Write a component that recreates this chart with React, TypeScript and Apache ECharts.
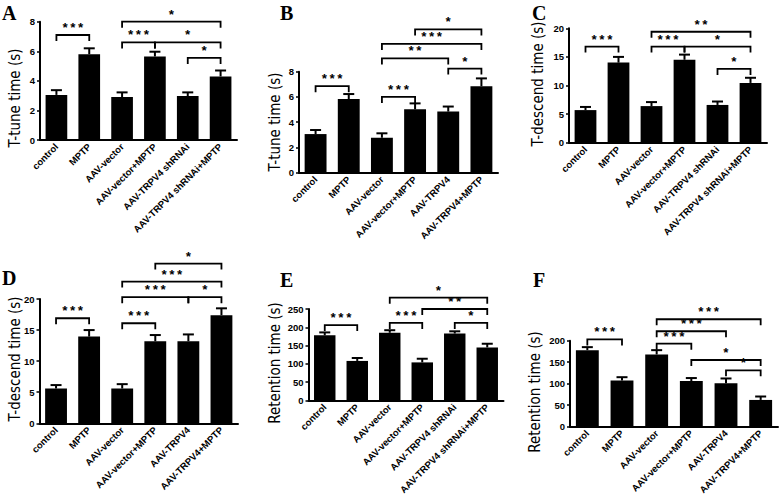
import React, { useEffect, useRef } from "react";
import * as echarts from "echarts";

// ---------- categories ----------
const groupsShRNAi = ["control", "MPTP", "AAV-vector", "AAV-vector+MPTP", "AAV-TRPV4 shRNAi", "AAV-TRPV4 shRNAi+MPTP"];
const groupsTRPV4 = ["control", "MPTP", "AAV-vector", "AAV-vector+MPTP", "AAV-TRPV4", "AAV-TRPV4+MPTP"];

// ---------- panel letters & y-axis titles ----------
const letters = ["A", "B", "C", "D", "E", "F"];
const yTitles = ["T-tune time (s)", "T-tune time (s)", "T-descend time (s)", "T-descend time (s)", "Retention time (s)", "Retention time (s)"];

// ---------- tick labels ----------
const ticksA = [0, 2, 4, 6, 8];
const ticksB = [0, 2, 4, 6, 8];
const ticksC = [0, 5, 10, 15, 20];
const ticksD = [0, 5, 10, 15, 20];
const ticksE = [0, 50, 100, 150, 200, 250];
const ticksF = [0, 50, 100, 150, 200];

// ---------- means ----------
const meanA = [3.05, 5.8, 2.9, 5.65, 2.97, 4.3];
const meanB = [3.06, 5.83, 2.77, 5.02, 4.84, 6.85];
const meanC = [5.7, 14.0, 6.4, 14.5, 6.6, 10.45];
const meanD = [5.6, 13.95, 5.6, 13.2, 13.2, 17.4];
const meanE = [178, 108, 185, 104, 183, 145];
const meanF = [178, 107, 168, 106, 101, 62];

// ---------- SEM ----------
const semA = [0.32, 0.4, 0.32, 0.32, 0.25, 0.4];
const semB = [0.32, 0.4, 0.35, 0.47, 0.4, 0.62];
const semC = [0.55, 1.0, 0.7, 0.9, 0.6, 0.9];
const semD = [0.55, 1.05, 0.7, 1.0, 1.1, 1.1];
const semE = [8, 8, 7, 10, 6, 10];
const semF = [7, 8, 10, 7, 11, 8];

// ---------- significance brackets: [from, to, y, label] ----------
type Sig = [number, number, number, string];
const sigA: Sig[] = [[0, 1, 7.1, "***"], [2, 3, 6.6, "***"], [3, 5, 6.6, "*"], [4, 5, 5.55, "*"], [2, 5, 8.0, "*"]];
const sigB: Sig[] = [[0, 1, 6.85, "***"], [2, 3, 6.0, "***"], [4, 5, 8.25, "*"], [2, 4, 9.05, "**"], [2, 5, 10.2, "***"], [3, 5, 11.35, "*"]];
const sigC: Sig[] = [[0, 1, 16.8, "***"], [2, 3, 16.8, "***"], [3, 5, 16.8, "*"], [4, 5, 12.9, "*"], [2, 5, 19.4, "**"]];
const sigD: Sig[] = [[0, 1, 16.9, "***"], [2, 3, 16.1, "***"], [2, 4, 20.3, "***"], [4, 5, 20.3, "*"], [2, 5, 22.8, "***"], [3, 5, 25.7, "*"]];
const sigE: Sig[] = [[0, 1, 206, "***"], [2, 3, 212, "***"], [4, 5, 212, "*"], [3, 5, 250, "**"], [2, 5, 281, "*"]];
const sigF: Sig[] = [[0, 1, 203, "***"], [2, 3, 193, "***"], [2, 4, 222, "***"], [2, 5, 250, "***"], [3, 5, 155, "*"], [4, 5, 131, "*"]];

const panels = [
  { cats: groupsShRNAi, ticks: ticksA, mean: meanA, sem: semA, sig: sigA },
  { cats: groupsTRPV4, ticks: ticksB, mean: meanB, sem: semB, sig: sigB },
  { cats: groupsShRNAi, ticks: ticksC, mean: meanC, sem: semC, sig: sigC },
  { cats: groupsTRPV4, ticks: ticksD, mean: meanD, sem: semD, sig: sigD },
  { cats: groupsShRNAi, ticks: ticksE, mean: meanE, sem: semE, sig: sigE },
  { cats: groupsTRPV4, ticks: ticksF, mean: meanF, sem: semF, sig: sigF },
];

// ---------- layout (pixels) ----------
const layout = [
  { left: 40, top: 21.7, width: 197, height: 118.3, letter: [2, 3], title: [15, 98] },
  { left: 299, top: 71.7, width: 199, height: 101, letter: [280, 3], title: [275, 122] },
  { left: 569, top: 28.3, width: 198, height: 114.4, letter: [532, 3], title: [538, 84] },
  { left: 39.5, top: 299, width: 198.5, height: 124.3, letter: [2, 268], title: [15, 359] },
  { left: 308.5, top: 309, width: 195, height: 105.3, letter: [280, 270], title: [275, 363] },
  { left: 570, top: 340.7, width: 208, height: 100, letter: [533, 270], title: [535, 392] },
];

const SANS = "'Liberation Sans', Arial, Helvetica, sans-serif";
const NARROW = "'Liberation Sans Narrow', 'Arial Narrow', 'DejaVu Sans Condensed', 'Liberation Sans', sans-serif";

export default function App() {
  const ref = useRef<HTMLDivElement>(null);
  useEffect(() => {
    document.body.style.margin = "0";
    if (!ref.current) return;
    const chart = echarts.init(ref.current, null, { renderer: "svg" });

    const series: any[] = [];
    panels.forEach((p, i) => {
      series.push({
        type: "bar",
        xAxisIndex: i,
        yAxisIndex: i,
        data: p.mean,
        barWidth: "66%",
        itemStyle: { color: "#000" },
        silent: true,
        z: 2,
      });
      series.push({
        type: "custom",
        xAxisIndex: i,
        yAxisIndex: i,
        clip: false,
        silent: true,
        z: 3,
        encode: { x: 0, y: [1, 2] },
        data: p.mean.map((m, j) => [j, m, m + p.sem[j]]),
        renderItem: (params: any, api: any) => {
          const x = api.value(0);
          const p0 = api.coord([x, api.value(1)]);
          const p1 = api.coord([x, api.value(2)]);
          const half = 5.5;
          return {
            type: "group",
            children: [
              { type: "line", shape: { x1: p0[0], y1: p0[1], x2: p1[0], y2: p1[1] }, style: { stroke: "#000", lineWidth: 2 } },
              { type: "line", shape: { x1: p1[0] - half, y1: p1[1], x2: p1[0] + half, y2: p1[1] }, style: { stroke: "#000", lineWidth: 2 } },
            ],
          };
        },
      });
      series.push({
        type: "custom",
        xAxisIndex: i,
        yAxisIndex: i,
        clip: false,
        silent: true,
        z: 4,
        encode: { x: [0, 1], y: 2 },
        data: p.sig.map((s) => [s[0], s[1], s[2]]),
        renderItem: (params: any, api: any) => {
          const label = p.sig[params.dataIndex][3];
          const a = api.coord([api.value(0), api.value(2)]);
          const b = api.coord([api.value(1), api.value(2)]);
          const tick = 6;
          return {
            type: "group",
            children: [
              {
                type: "polyline",
                shape: { points: [[a[0], a[1] + tick], [a[0], a[1]], [b[0], b[1]], [b[0], b[1] + tick]] },
                style: { stroke: "#000", lineWidth: 1.8, fill: "none" },
              },
              {
                type: "text",
                x: (a[0] + b[0]) / 2,
                y: a[1] - 6.5,
                style: {
                  text: label,
                  align: "center",
                  verticalAlign: "middle",
                  fontSize: 13,
                  lineHeight: 8,
                  fontWeight: "bold",
                  fontFamily: "'Liberation Mono', 'DejaVu Sans Mono', monospace",
                  fill: "#000",
                },
              },
            ],
          };
        },
      });
    });

    const graphic: any[] = [];
    layout.forEach((l, i) => {
      graphic.push({
        type: "text",
        x: l.letter[0],
        y: l.letter[1],
        style: {
          text: letters[i],
          fontSize: 20,
          fontWeight: "bold",
          fontFamily: "'Liberation Serif', 'Times New Roman', serif",
          fill: "#000",
          align: "left",
          verticalAlign: "top",
        },
      });
      graphic.push({
        type: "text",
        x: l.title[0],
        y: l.title[1],
        rotation: Math.PI / 2,
        style: {
          text: yTitles[i],
          fontSize: 15,
          fontFamily: NARROW,
          fill: "#000",
          align: "center",
          verticalAlign: "middle",
        },
      });
    });

    const option: any = {
      animation: false,
      backgroundColor: "#fff",
      grid: layout.map((l) => ({ left: l.left, top: l.top, width: l.width, height: l.height, containLabel: false })),
      xAxis: panels.map((p, i) => ({
        type: "category",
        gridIndex: i,
        data: p.cats,
        axisLine: { lineStyle: { color: "#000", width: 2 } },
        axisTick: { alignWithLabel: true, length: 3, lineStyle: { color: "#000", width: 1.5 } },
        axisLabel: {
          rotate: 45,
          interval: 0,
          fontSize: 9.5,
          fontWeight: "bold",
          color: "#000",
          fontFamily: SANS,
          margin: 5,
        },
      })),
      yAxis: panels.map((p, i) => ({
        type: "value",
        gridIndex: i,
        min: p.ticks[0],
        max: p.ticks[p.ticks.length - 1],
        interval: p.ticks[1] - p.ticks[0],
        splitLine: { show: false },
        axisLine: { show: true, lineStyle: { color: "#000", width: 2 } },
        axisTick: { show: true, length: 3, lineStyle: { color: "#000", width: 1.5 } },
        axisLabel: { fontSize: 9.5, fontWeight: "bold", color: "#000", fontFamily: SANS, margin: 5 },
      })),
      series,
      graphic,
    };
    chart.setOption(option);
    return () => chart.dispose();
  }, []);
  return <div ref={ref} style={{ width: 782, height: 497 }} />;
}
